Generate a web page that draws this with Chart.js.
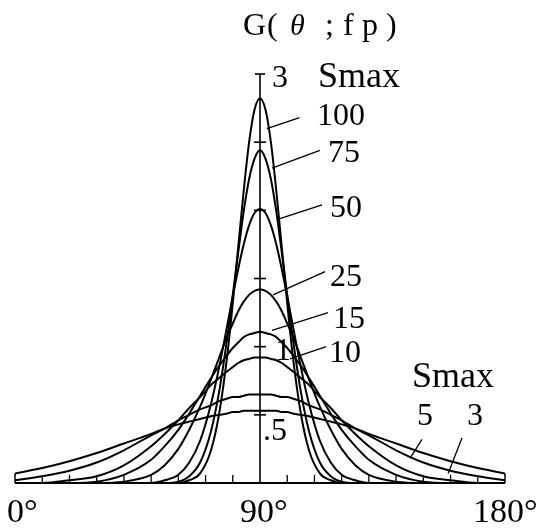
<!DOCTYPE html>
<html><head><meta charset="utf-8">
<script src="https://cdn.jsdelivr.net/npm/chart.js@4/dist/chart.umd.min.js"></script>
<style>html,body{margin:0;padding:0;background:#fff;}#wrap{width:540px;height:532px;position:relative;}</style>
</head><body><div id="wrap"><canvas id="c"></canvas></div>
<script>
// direction angle theta (degrees)
const angles = [0,10,20,30,40,50,55,60,64,68,72,75,78,80,82,84,86,88,90,92,94,96,98,100,102,105,108,112,116,120,125,130,140,150,160,170,180];
// G(theta; fp), one series per Smax
const g100 = [0,0,0,0,0,0,0,0,0.02,0.07,0.24,0.51,0.94,1.32,1.73,2.14,2.50,2.74,2.82,2.74,2.50,2.14,1.73,1.32,0.94,0.51,0.24,0.07,0.02,0,0,0,0,0,0,0,0];
const g75  = [0,0,0,0,0,0,0,0.01,0.05,0.15,0.38,0.67,1.07,1.38,1.69,1.99,2.23,2.38,2.44,2.38,2.23,1.99,1.69,1.38,1.07,0.67,0.38,0.15,0.05,0.01,0,0,0,0,0,0,0];
const g50  = [0,0,0,0,0,0,0.02,0.06,0.15,0.31,0.58,0.85,1.16,1.37,1.57,1.75,1.89,1.98,2.01,1.98,1.89,1.75,1.57,1.37,1.16,0.85,0.58,0.31,0.15,0.06,0.02,0,0,0,0,0,0];
const g25  = [0,0,0,0,0.01,0.06,0.13,0.25,0.39,0.56,0.76,0.92,1.08,1.17,1.26,1.33,1.38,1.41,1.42,1.41,1.38,1.33,1.26,1.17,1.08,0.92,0.76,0.56,0.39,0.25,0.13,0.06,0.01,0,0,0,0];
const g15  = [0,0,0,0.01,0.06,0.17,0.27,0.39,0.51,0.64,0.77,0.86,0.94,0.99,1.03,1.07,1.09,1.10,1.11,1.10,1.09,1.07,1.03,0.99,0.94,0.86,0.77,0.64,0.51,0.39,0.27,0.17,0.06,0.01,0,0,0];
const g10  = [0,0,0.02,0.05,0.13,0.27,0.36,0.46,0.55,0.63,0.72,0.77,0.82,0.85,0.88,0.90,0.91,0.92,0.92,0.92,0.91,0.90,0.88,0.85,0.82,0.77,0.72,0.63,0.55,0.46,0.36,0.27,0.13,0.05,0.02,0,0];
const g5   = [0.02,0.05,0.09,0.15,0.24,0.35,0.40,0.46,0.50,0.54,0.57,0.60,0.62,0.63,0.63,0.64,0.65,0.65,0.65,0.65,0.65,0.64,0.63,0.63,0.62,0.60,0.57,0.54,0.50,0.46,0.40,0.35,0.24,0.15,0.09,0.05,0.02];
const g3   = [0.07,0.11,0.16,0.22,0.29,0.36,0.40,0.43,0.45,0.47,0.49,0.50,0.51,0.52,0.52,0.53,0.53,0.53,0.53,0.53,0.53,0.53,0.52,0.52,0.51,0.50,0.49,0.47,0.45,0.43,0.40,0.36,0.29,0.22,0.16,0.11,0.07];
const smaxLabels = ['100','75','50','25','15','10','5','3'];
const xTickValues = [0,90,180];
const xTickLabels = ['0°','90°','180°'];
const yTickValues = [0.5,1,1.5,2,2.5,3];
const yTickLabels = ['.5','1','','','','3'];

const seriesList = [g100,g75,g50,g25,g15,g10,g5,g3];

// annotation placement (pixels for text, data units for leader lines)
const labelPos = [[317,125],[328,162],[330,217],[330,286],[333,328],[329,362],[417,425],[467,425]];
const leaders = [
  [[92.5,2.60],[104.5,2.68]],
  [[94.4,2.31],[112.0,2.44]],
  [[97.3,1.94],[112.8,2.04]],
  [[94.8,1.38],[113.9,1.55]],
  [[94.4,1.12],[115.0,1.25]],
  [[101.0,0.91],[114.3,1.00]],
  [[145.1,0.18],[149.5,0.32]],
  [[159.1,0.07],[164.2,0.33]]
];
const yLabelPos = [[263,440],[275,360],null,null,null,[272,87]];
const xLabelPos = [7,240,473];

const SERIF = '"Liberation Serif", "DejaVu Serif", serif';

const decor = {
  id:'decor',
  afterDatasetsDraw(chart){
    const ctx = chart.ctx, xs = chart.scales.x, ys = chart.scales.y;
    ctx.save();
    ctx.strokeStyle = '#000'; ctx.fillStyle = '#000';
    const y0 = ys.getPixelForValue(0);
    ctx.lineWidth = 2;
    ctx.beginPath(); ctx.moveTo(xs.getPixelForValue(0), y0); ctx.lineTo(xs.getPixelForValue(180), y0); ctx.stroke();
    ctx.lineWidth = 1.5;
    [0,180].forEach((a,k)=>{
      const v = k===0 ? g3[0] : g3[g3.length-1];
      const px = xs.getPixelForValue(a);
      ctx.beginPath(); ctx.moveTo(px, y0); ctx.lineTo(px, ys.getPixelForValue(v)); ctx.stroke();
    });
    ctx.lineWidth = 1.3;
    for(let a=10;a<180;a+=10){
      if(a===90) continue;
      const px = xs.getPixelForValue(a);
      ctx.beginPath(); ctx.moveTo(px, y0); ctx.lineTo(px, y0-8); ctx.stroke();
    }
    const xc = xs.getPixelForValue(90);
    ctx.lineWidth = 1.6;
    ctx.beginPath(); ctx.moveTo(xc, y0); ctx.lineTo(xc, ys.getPixelForValue(3)); ctx.stroke();
    yTickValues.forEach((v)=>{
      const py = ys.getPixelForValue(v);
      const hw = (v===3) ? 5 : 6;
      ctx.beginPath(); ctx.moveTo(xc-hw, py); ctx.lineTo(xc+hw, py); ctx.stroke();
    });
    ctx.lineWidth = 1.3;
    leaders.forEach(([p,q])=>{
      ctx.beginPath();
      ctx.moveTo(xs.getPixelForValue(p[0]), ys.getPixelForValue(p[1]));
      ctx.lineTo(xs.getPixelForValue(q[0]), ys.getPixelForValue(q[1]));
      ctx.stroke();
    });
    ctx.textBaseline = 'alphabetic';
    ctx.textAlign = 'left';
    ctx.font = '32px ' + SERIF;
    smaxLabels.forEach((t,i)=>{ ctx.fillText(t, labelPos[i][0], labelPos[i][1]); });
    yTickLabels.forEach((t,i)=>{ if(t && yLabelPos[i]) ctx.fillText(t, yLabelPos[i][0], yLabelPos[i][1]); });
    ctx.font = '36px ' + SERIF;
    ctx.fillText('Smax', 318, 87);
    ctx.fillText('Smax', 412, 387);
    ctx.font = '34px ' + SERIF;
    xTickLabels.forEach((t,i)=>{ ctx.fillText(t, xLabelPos[i], 522); });
    ctx.font = '32px ' + SERIF;
    ctx.fillText('G', 243, 35);
    ctx.fillText('(', 267, 35);
    ctx.fillText(';', 325, 35);
    ctx.fillText('f', 343, 35);
    ctx.fillText('p', 362, 35);
    ctx.fillText(')', 386, 35);
    ctx.font = 'italic 30px ' + SERIF;
    ctx.fillText('θ', 290, 35);
    ctx.restore();
  }
};

new Chart(document.getElementById('c'), {
  type:'line',
  data:{
    datasets: seriesList.map((vals,i)=>({
      label:'Smax ' + smaxLabels[i],
      data: angles.map((a,j)=>({x:a, y:vals[j]})),
      borderColor:'#000',
      borderWidth:2,
      pointRadius:0,
      fill:false,
      cubicInterpolationMode:'monotone'
    }))
  },
  options:{
    responsive:true,
    maintainAspectRatio:false,
    animation:false,
    layout:{padding:{left:15,right:35,top:74,bottom:49}},
    scales:{
      x:{type:'linear',min:0,max:180,display:false},
      y:{type:'linear',min:0,max:3,display:false}
    },
    plugins:{legend:{display:false},tooltip:{enabled:false}},
    elements:{line:{borderWidth:2}}
  },
  plugins:[decor]
});
</script>
</body></html>
